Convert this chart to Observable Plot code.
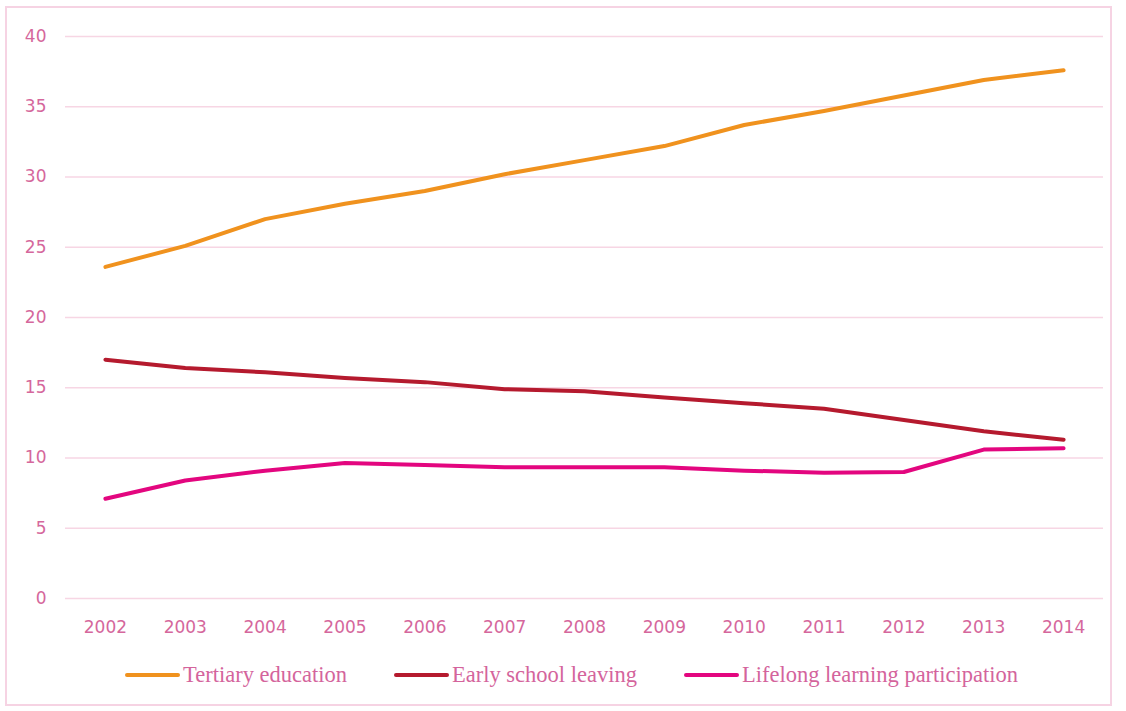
<!DOCTYPE html>
<html>
<head>
<meta charset="utf-8">
<script src="https://cdn.jsdelivr.net/npm/d3@7"></script>
<script src="https://cdn.jsdelivr.net/npm/@observablehq/plot@0.6"></script>
<style>
  html, body { margin: 0; padding: 0; background: #fff; }
  #frame { position: absolute; left: 5px; top: 6px; width: 1107px; height: 700px; border: 2px solid #f6d3e3; box-sizing: border-box; }
  #chart { position: absolute; left: 0; top: 0; }
  #legend { position: absolute; left: 125px; top: 662px; display: flex; align-items: center;
    font-family: "Liberation Serif", serif; font-size: 22.5px; color: #d4649c; }
  .item { display: flex; align-items: center; margin-right: 47px; }
  .sw { width: 55px; height: 4px; border-radius: 2px; margin-right: 3px; }
</style>
</head>
<body>
<div id="frame"></div>
<div id="chart"></div>
<div id="legend"></div>
<script>
const years = ["2002","2003","2004","2005","2006","2007","2008","2009","2010","2011","2012","2013","2014"];
const seriesNames = ["Tertiary education", "Early school leaving", "Lifelong learning participation"];
const tertiary = [23.6, 25.1, 27.0, 28.1, 29.0, 30.2, 31.2, 32.2, 33.7, 34.7, 35.8, 36.9, 37.6];
const earlyLeaving = [17.0, 16.4, 16.1, 15.7, 15.4, 14.9, 14.75, 14.3, 13.9, 13.5, 12.7, 11.9, 11.3];
const lifelong = [7.1, 8.4, 9.1, 9.65, 9.5, 9.35, 9.35, 9.35, 9.1, 8.95, 9.0, 10.6, 10.7];
const colors = ["#f0921e", "#b51a2e", "#e3067f"];
const yTicks = [0, 5, 10, 15, 20, 25, 30, 35, 40];

const allValues = [tertiary, earlyLeaving, lifelong];
const data = [];
seriesNames.forEach((s, i) => years.forEach((y, j) => data.push({series: s, year: y, value: allValues[i][j]})));

const plot = Plot.plot({
  width: 1126,
  height: 640,
  marginTop: 36,
  marginBottom: 42,
  marginLeft: 65,
  marginRight: 23,
  style: { background: "transparent", fontFamily: "DejaVu Sans, sans-serif", fontSize: "17px", color: "#d5679c" },
  x: { type: "point", domain: years, padding: 0.5, round: false, label: null },
  y: { domain: [0, 40], label: null },
  color: { domain: seriesNames, range: colors },
  marks: [
    Plot.ruleY(yTicks, { stroke: "#f7d6e4", strokeWidth: 1.5 }),
    Plot.axisY(yTicks, { tickSize: 0, tickPadding: 19, label: null, fill: "#d5679c" }),
    Plot.axisX(years, { tickSize: 0, tickPadding: 22, label: null, fill: "#d5679c" }),
    Plot.line(data, { x: "year", y: "value", z: "series", stroke: "series", strokeWidth: 4, strokeLinecap: "round", strokeLinejoin: "round" })
  ]
});
document.getElementById("chart").appendChild(plot);

const legend = document.getElementById("legend");
seriesNames.forEach((s, i) => {
  const item = document.createElement("div");
  item.className = "item";
  const sw = document.createElement("div");
  sw.className = "sw";
  sw.style.background = colors[i];
  const t = document.createElement("span");
  t.textContent = s;
  item.appendChild(sw);
  item.appendChild(t);
  legend.appendChild(item);
});
</script>
</body>
</html>
